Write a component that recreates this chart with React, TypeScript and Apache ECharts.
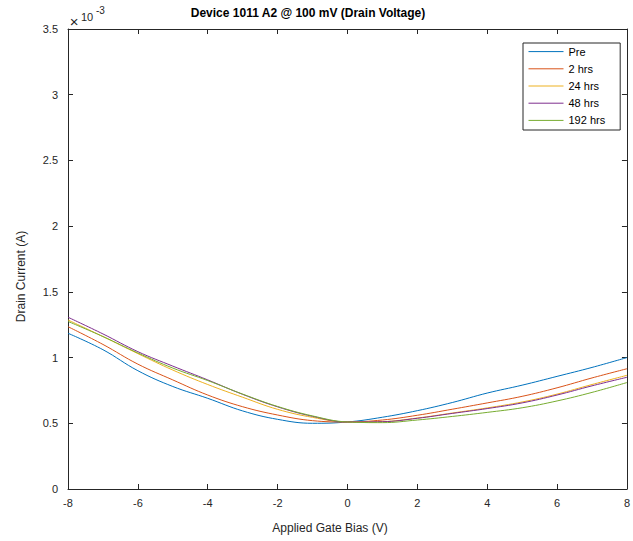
import React, { useEffect, useRef } from "react";
import * as echarts from "echarts";

const gateBias = [-8, -7, -6, -5, -4, -3, -2, -1, 0, 1, 2, 3, 4, 5, 6, 7, 8];
const seriesNames = ["Pre", "2 hrs", "24 hrs", "48 hrs", "192 hrs"];
const seriesColors = ["#0072BD", "#D95319", "#EDB120", "#7E2F8E", "#77AC30"];
// Drain current in units of 1e-3 A
const pre = [1.185, 1.06, 0.9, 0.78, 0.69, 0.594, 0.53, 0.5, 0.51, 0.546, 0.596, 0.658, 0.73, 0.79, 0.857, 0.925, 1.0];
const hrs2 = [1.235, 1.1, 0.95, 0.83, 0.715, 0.626, 0.563, 0.52, 0.51, 0.525, 0.561, 0.607, 0.655, 0.705, 0.77, 0.845, 0.915];
const hrs24 = [1.286, 1.16, 1.03, 0.905, 0.795, 0.698, 0.606, 0.545, 0.51, 0.513, 0.54, 0.578, 0.617, 0.662, 0.722, 0.795, 0.865];
const hrs48 = [1.307, 1.18, 1.045, 0.935, 0.83, 0.72, 0.625, 0.553, 0.51, 0.512, 0.538, 0.575, 0.612, 0.655, 0.715, 0.785, 0.85];
const hrs192 = [1.275, 1.16, 1.035, 0.92, 0.825, 0.722, 0.628, 0.556, 0.51, 0.505, 0.525, 0.552, 0.583, 0.618, 0.67, 0.735, 0.81];
const allSeries = [pre, hrs2, hrs24, hrs48, hrs192];

const FONT = "'Liberation Sans', Arial, Helvetica, sans-serif";
const AX = "#262626";

export default function App() {
  const ref = useRef<HTMLDivElement>(null);
  useEffect(() => {
    if (!ref.current) return;
    document.body.style.overflow = "hidden";
    const chart = echarts.init(ref.current, null, { renderer: "svg" });
    const tickCommon = { show: true, inside: true, length: 5, lineStyle: { color: AX, width: 1 } };
    const lineCommon = { show: true, onZero: false, lineStyle: { color: AX, width: 1 } };
    chart.setOption({
      animation: false,
      backgroundColor: "#ffffff",
      grid: { left: 68, top: 29, width: 566, height: 460, containLabel: false },
      xAxis: [
        {
          type: "value",
          min: -8,
          max: 8,
          interval: 2,
          position: "bottom",
          axisLine: lineCommon,
          axisTick: tickCommon,
          splitLine: { show: false },
          axisLabel: { color: AX, fontSize: 11, fontFamily: FONT, margin: 8 },
        },
        {
          type: "value",
          min: -8,
          max: 8,
          interval: 2,
          position: "top",
          axisLine: lineCommon,
          axisTick: tickCommon,
          splitLine: { show: false },
          axisLabel: { show: false },
        },
      ],
      yAxis: [
        {
          type: "value",
          min: 0,
          max: 3.5,
          interval: 0.5,
          position: "left",
          axisLine: lineCommon,
          axisTick: tickCommon,
          splitLine: { show: false },
          axisLabel: { color: AX, fontSize: 11, fontFamily: FONT, margin: 10 },
        },
        {
          type: "value",
          min: 0,
          max: 3.5,
          interval: 0.5,
          position: "right",
          axisLine: lineCommon,
          axisTick: tickCommon,
          splitLine: { show: false },
          axisLabel: { show: false },
        },
      ],
      legend: {
        orient: "vertical",
        left: 523,
        top: 43,
        itemWidth: 35,
        itemHeight: 14,
        itemGap: 6,
        padding: [3, 15, 4, 5],
        borderColor: AX,
        borderWidth: 1,
        backgroundColor: "#ffffff",
        itemStyle: { opacity: 0 },
        lineStyle: { width: 1 },
        textStyle: { color: "#000", fontSize: 11, fontFamily: FONT },
        data: seriesNames,
      },
      series: allSeries.map((vals, i) => ({
        name: seriesNames[i],
        type: "line",
        data: gateBias.map((x, j) => [x, vals[j]]),
        smooth: 0.4,
        symbol: "none",
        color: seriesColors[i],
        lineStyle: { color: seriesColors[i], width: 1 },
        z: 2 + i,
      })),
      graphic: [
        {
          type: "text",
          x: 308,
          y: 13,
          style: {
            text: "Device 1011 A2 @ 100 mV (Drain Voltage)",
            fill: "#000",
            font: `bold 12px ${FONT}`,
            align: "center",
            verticalAlign: "middle",
          },
        },
        {
          type: "text",
          x: 74,
          y: 21,
          style: { text: "×", fill: AX, font: `15px ${FONT}`, align: "center", verticalAlign: "middle" },
        },
        {
          type: "text",
          x: 81,
          y: 16.5,
          style: { text: "10", fill: AX, font: `11px ${FONT}`, align: "left", verticalAlign: "middle" },
        },
        {
          type: "text",
          x: 96,
          y: 10.5,
          style: { text: "-3", fill: AX, font: `10px ${FONT}`, align: "left", verticalAlign: "middle" },
        },
        {
          type: "text",
          x: 20.5,
          y: 276.5,
          rotation: Math.PI / 2,
          style: {
            text: "Drain Current (A)",
            fill: AX,
            font: `12px ${FONT}`,
            align: "center",
            verticalAlign: "middle",
          },
        },
        {
          type: "text",
          x: 330,
          y: 528,
          style: {
            text: "Applied Gate Bias (V)",
            fill: AX,
            font: `12px ${FONT}`,
            align: "center",
            verticalAlign: "middle",
          },
        },
      ],
    });
    return () => chart.dispose();
  }, []);
  return (
    <div
      ref={ref}
      style={{ position: "fixed", left: 0, top: 0, width: 633, height: 541, background: "#fff" }}
    />
  );
}
